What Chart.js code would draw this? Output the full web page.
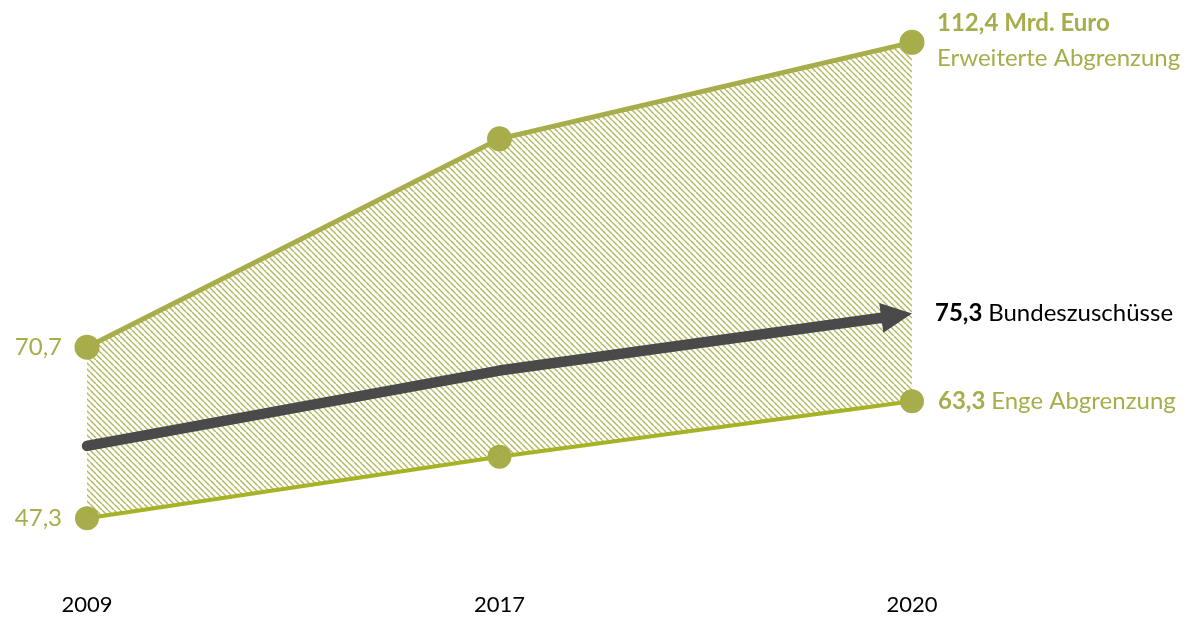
<!DOCTYPE html>
<html>
<head>
<meta charset="utf-8">
<script src="https://cdn.jsdelivr.net/npm/chart.js@4.4.1/dist/chart.umd.min.js"></script>
<style>
  html, body { margin: 0; padding: 0; background: #fff; }
  #wrap { width: 1192px; height: 617px; position: relative; }
</style>
</head>
<body>
<div id="wrap"><canvas id="chart"></canvas></div>
<script>
// Jahre auf der x-Achse
const years = ['2009', '2017', '2020'];
// Erweiterte Abgrenzung (Mrd. Euro)
const erweitert = [70.7, 99.2, 112.4];
// Enge Abgrenzung (Mrd. Euro)
const eng = [47.3, 55.7, 63.3];
// Bundeszuschüsse (Mrd. Euro)
const bund = [57.2, 67.5, 75.3];

const OLIVE = '#a8ad4b';
const LIME = '#a6b423';
const DARK = '#4a4a4a';
const FONT = 'Lato, "Open Sans", sans-serif';
const SIZE = 24;

// diagonal hatching for the band between both borders
function makeHatch() {
  const s = 6;
  const c = document.createElement('canvas');
  c.width = s; c.height = s;
  const g = c.getContext('2d');
  g.strokeStyle = 'rgba(165,172,62,0.85)';
  g.lineWidth = 1.4;
  g.beginPath();
  for (let k = -1; k <= 1; k++) {
    g.moveTo(k * s, 0);
    g.lineTo(k * s + s, s);
  }
  g.stroke();
  return g.createPattern(c, 'repeat');
}

const fmt = v => v.toFixed(1).replace('.', ',');

// arrow for the Bundeszuschüsse series
const arrowPlugin = {
  id: 'arrowLine',
  afterDatasetsDraw(chart) {
    const pts = chart.getDatasetMeta(2).data.map(p => ({ x: p.x, y: p.y }));
    const ctx = chart.ctx;
    const tip = pts[pts.length - 1];
    const prev = pts[pts.length - 2];
    const len = Math.hypot(tip.x - prev.x, tip.y - prev.y);
    const dx = (tip.x - prev.x) / len, dy = (tip.y - prev.y) / len;
    const headLen = 31, headHalf = 15;
    ctx.save();
    ctx.strokeStyle = DARK;
    ctx.fillStyle = DARK;
    ctx.lineWidth = 10.5;
    ctx.lineCap = 'round';
    ctx.lineJoin = 'round';
    ctx.beginPath();
    ctx.moveTo(pts[0].x, pts[0].y);
    for (let i = 1; i < pts.length - 1; i++) ctx.lineTo(pts[i].x, pts[i].y);
    ctx.lineTo(tip.x - dx * headLen * 0.8, tip.y - dy * headLen * 0.8);
    ctx.stroke();
    const bx = tip.x - dx * headLen, by = tip.y - dy * headLen;
    ctx.beginPath();
    ctx.moveTo(tip.x, tip.y);
    ctx.lineTo(bx - dy * headHalf, by + dx * headHalf);
    ctx.lineTo(bx + dy * headHalf, by - dx * headHalf);
    ctx.closePath();
    ctx.fill();
    ctx.restore();
  }
};

// value labels next to the first and last points
const labelPlugin = {
  id: 'valueLabels',
  afterDraw(chart) {
    const ctx = chart.ctx;
    const up = chart.getDatasetMeta(0).data;
    const lo = chart.getDatasetMeta(1).data;
    const bu = chart.getDatasetMeta(2).data;
    const n = years.length - 1;
    const reg = SIZE + 'px ' + FONT;
    const bold = 'bold ' + SIZE + 'px ' + FONT;
    ctx.save();
    ctx.textBaseline = 'middle';

    ctx.fillStyle = OLIVE;
    ctx.textAlign = 'right';
    ctx.font = reg;
    ctx.fillText(fmt(erweitert[0]), up[0].x - 25, up[0].y);
    ctx.fillText(fmt(eng[0]), lo[0].x - 25, lo[0].y);

    ctx.textAlign = 'left';
    const rx = up[n].x + 25;
    ctx.font = bold;
    ctx.fillText(fmt(erweitert[n]) + ' Mrd. Euro', rx, up[n].y - 19);
    ctx.font = reg;
    ctx.fillText('Erweiterte Abgrenzung', rx, up[n].y + 16);

    const pair = (x, y, b, rest, color) => {
      ctx.fillStyle = color;
      ctx.font = bold;
      ctx.fillText(b, x, y);
      const w = ctx.measureText(b + ' ').width;
      ctx.font = reg;
      ctx.fillText(rest, x + w, y);
    };
    pair(bu[n].x + 23, bu[n].y, fmt(bund[n]), 'Bundeszuschüsse', '#000');
    pair(lo[n].x + 26, lo[n].y, fmt(eng[n]), 'Enge Abgrenzung', OLIVE);
    ctx.restore();
  }
};

new Chart(document.getElementById('chart'), {
  type: 'line',
  data: {
    labels: years,
    datasets: [
      {
        label: 'Erweiterte Abgrenzung',
        data: erweitert,
        borderColor: OLIVE,
        borderWidth: 5,
        pointRadius: 10,
        pointBackgroundColor: OLIVE,
        pointBorderColor: OLIVE,
        backgroundColor: makeHatch(),
        fill: 1,
        tension: 0
      },
      {
        label: 'Enge Abgrenzung',
        data: eng,
        borderColor: LIME,
        borderWidth: 4,
        pointRadius: 10,
        pointBackgroundColor: OLIVE,
        pointBorderColor: OLIVE,
        fill: false,
        tension: 0
      },
      {
        label: 'Bundeszuschüsse',
        data: bund,
        showLine: false,
        pointRadius: 0,
        fill: false
      }
    ]
  },
  options: {
    responsive: true,
    maintainAspectRatio: false,
    animation: false,
    layout: { padding: { left: 87, right: 280, top: 16, bottom: 0 } },
    plugins: {
      legend: { display: false },
      tooltip: { enabled: false }
    },
    scales: {
      x: {
        offset: false,
        grid: { display: false, drawTicks: false },
        border: { display: false },
        ticks: { color: '#000', font: { family: FONT, size: 22 }, padding: 35, maxRotation: 0 },
        afterFit(scale) { scale.height = 60; }
      },
      y: {
        display: false,
        min: 42,
        max: 116
      }
    }
  },
  plugins: [arrowPlugin, labelPlugin]
});
</script>
</body>
</html>
